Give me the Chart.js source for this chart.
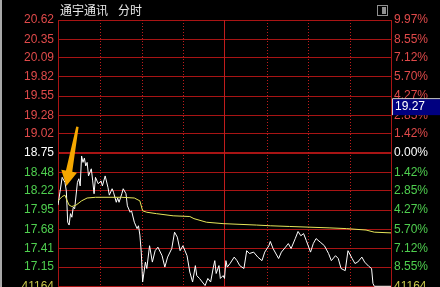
<!DOCTYPE html>
<html>
<head>
<meta charset="utf-8">
<script src="https://cdn.jsdelivr.net/npm/chart.js@4.4.0/dist/chart.umd.min.js"></script>
<style>
  html, body { margin: 0; padding: 0; background: #000; overflow: hidden; }
  canvas { display: block; }
</style>
</head>
<body>
<canvas id="chart" width="440" height="287"></canvas>
<script>
// intraday chart (分时) data
const stockName = '通宇通讯';
const periodName = '分时';
const prevClose = 18.75;
const cursorPrice = 19.27;

const priceTicks  = [20.62, 20.35, 20.09, 19.82, 19.55, 19.28, 19.02, 18.75, 18.48, 18.22, 17.95, 17.68, 17.41, 17.15, 16.88];
const priceLabels = ['20.62', '20.35', '20.09', '19.82', '19.55', '19.28', '19.02', '18.75', '18.48', '18.22', '17.95', '17.68', '17.41', '17.15', '41164'];
const pctLabels   = ['9.97%', '8.55%', '7.12%', '5.70%', '4.27%', '2.85%', '1.42%', '0.00%', '1.42%', '2.85%', '4.27%', '5.70%', '7.12%', '8.55%', '41164'];

// half hour marks (minutes since open); 120 = midday break
const gridMinutes = [30, 60, 90, 120, 150, 180, 210];

const priceMinutes = [0, 3, 5, 6, 7, 8, 9, 10, 11, 12, 14, 15, 16, 17, 18, 19, 20, 21, 22, 24,
  25, 26, 27, 29, 31, 32, 34, 36, 37, 39, 40, 42, 43, 44, 46, 47, 49, 50, 52, 53,
  55, 57, 58, 59, 60, 61, 63, 64, 66, 68, 70, 72, 75, 77, 79, 82, 84, 86, 88, 90,
  93, 95, 97, 99, 100, 102, 106, 108, 110, 112, 113, 114, 116, 117, 119, 120, 121, 122, 124, 127,
  129, 131, 134, 136, 138, 141, 144, 147, 149, 152, 153, 155, 159, 161, 164, 166, 168, 171, 173, 175,
  177, 179, 182, 184, 186, 189, 192, 195, 197, 200, 202, 204, 207, 209, 212, 214, 216, 219, 221, 224,
  226, 227, 228, 240];
const prices = [18.02, 18.41, 18.34, 18.22, 17.78, 17.74, 17.90, 17.85, 17.99, 17.97, 18.34, 18.39, 18.29, 18.71, 18.62, 18.68, 18.57, 18.62, 18.43, 18.53,
  18.36, 18.18, 18.41, 18.32, 18.36, 18.29, 18.43, 18.27, 18.16, 18.25, 18.20, 18.06, 18.12, 18.06, 18.18, 18.25, 18.18, 18.01, 17.92, 17.94,
  17.78, 17.69, 17.73, 17.60, 17.36, 16.94, 17.22, 17.13, 17.45, 17.22, 17.38, 17.43, 17.31, 17.15, 17.29, 17.41, 17.64, 17.57, 17.38, 17.45,
  17.31, 17.08, 16.94, 17.17, 17.03, 16.99, 16.89, 16.99, 16.94, 17.15, 17.24, 17.06, 17.17, 16.99, 17.03, 16.99, 17.24, 17.15, 17.20, 17.29,
  17.24, 17.17, 17.13, 17.38, 17.34, 17.36, 17.29, 17.24, 17.36, 17.45, 17.51, 17.41, 17.27, 17.36, 17.43, 17.48, 17.41, 17.55, 17.65, 17.59,
  17.62, 17.52, 17.36, 17.48, 17.55, 17.50, 17.45, 17.34, 17.24, 17.31, 17.27, 17.13, 17.10, 17.38, 17.27, 17.20, 17.22, 17.29, 17.22, 17.16,
  17.13, 16.92, 16.88, 16.88];

const avgMinutes = [0, 3, 5, 6, 8, 10, 13, 17, 21, 27, 46, 55, 59, 61, 64, 71, 83, 95, 98, 107, 119, 143, 153, 167, 196, 208, 222, 228, 240];
const avgPrices  = [18.08, 18.14, 18.16, 18.11, 18.02, 18.00, 18.02, 18.08, 18.12, 18.13, 18.13, 18.12, 18.08, 17.94, 17.92, 17.90, 17.87, 17.86, 17.83, 17.78,
  17.76, 17.74, 17.73, 17.72, 17.70, 17.69, 17.67, 17.64, 17.63];

// hand drawn arrow annotation (minute, price)
const arrowFrom = { x: 14, y: 19.12 };
const arrowTo = { x: 6, y: 18.29 };

const RED = '#a81414';
const LABEL_FONT = { family: 'Liberation Sans', size: 12 };

function tickColor(i) {
  if (i < 7) return '#e04a4a';
  if (i === 7) return '#ffffff';
  if (i < 14) return '#4fcf4f';
  return '#c8c84a';
}

const setTicks = scale => { scale.ticks = priceTicks.map(v => ({ value: v })); };

const decor = {
  id: 'decor',
  beforeDraw(chart) {
    const ctx = chart.ctx;
    ctx.save();
    ctx.fillStyle = '#000';
    ctx.fillRect(0, 0, chart.width, chart.height);
    ctx.fillStyle = '#a8a8a8';
    ctx.fillRect(0, 0, 2, chart.height);
    ctx.restore();
  },
  beforeDatasetsDraw(chart) {
    const { ctx, chartArea } = chart;
    const xs = chart.scales.x;
    ctx.save();
    ctx.fillStyle = '#c01c1c';
    gridMinutes.forEach(m => {
      const v = xs.getPixelForValue(m);
      if (m === 120) {
        ctx.fillRect(Math.floor(v), chartArea.top, 1, chartArea.bottom - chartArea.top);
      } else {
        const px = Math.ceil(v);
        for (let y = Math.ceil(chartArea.top); y < chartArea.bottom; y += 3) {
          ctx.fillRect(px, y, 1, 1);
        }
      }
    });
    ctx.restore();
  },
  afterDraw(chart) {
    const { ctx, chartArea } = chart;
    const xs = chart.scales.x, ys = chart.scales.y;
    ctx.save();

    // title
    ctx.font = '12px "Noto Sans CJK SC"';
    ctx.fillStyle = '#e8e8e8';
    ctx.textBaseline = 'middle';
    ctx.fillText(stockName, chartArea.left + 2, 10);
    ctx.fillText(periodName, chartArea.left + 60, 10);

    // small window button
    ctx.strokeStyle = '#909090';
    ctx.strokeRect(377.5, 5.5, 10, 10);
    ctx.fillStyle = '#909090';
    ctx.fillRect(382, 7, 4, 7);

    // cursor price box on right axis
    const by = ys.getPixelForValue(cursorPrice);
    ctx.fillStyle = '#000080';
    ctx.fillRect(chartArea.right + 1, by - 17, chart.width - chartArea.right, 16);
    ctx.strokeStyle = '#c8c8c8';
    ctx.beginPath();
    ctx.moveTo(chartArea.right + 1.5, by - 1);
    ctx.lineTo(chartArea.right + 1.5, by - 17.5);
    ctx.lineTo(chart.width, by - 17.5);
    ctx.stroke();
    ctx.font = '12px "Liberation Sans"';
    ctx.fillStyle = '#ffffff';
    ctx.fillText(cursorPrice.toFixed(2), chartArea.right + 4, by - 9);

    // arrow
    const ax = xs.getPixelForValue(arrowFrom.x), ay = ys.getPixelForValue(arrowFrom.y);
    const bx = xs.getPixelForValue(arrowTo.x), bY = ys.getPixelForValue(arrowTo.y);
    const len = Math.hypot(bx - ax, bY - ay);
    const ux = (bx - ax) / len, uy = (bY - ay) / len;
    const nx = -uy, ny = ux;
    const head = 15, hw = 8, sw0 = 1.2, sw1 = 3.2;
    const hx = bx - ux * head, hy = bY - uy * head;
    ctx.fillStyle = '#f5a800';
    ctx.beginPath();
    ctx.moveTo(ax + nx * sw0, ay + ny * sw0);
    ctx.lineTo(hx + nx * sw1, hy + ny * sw1);
    ctx.lineTo(hx + nx * hw, hy + ny * hw);
    ctx.lineTo(bx, bY);
    ctx.lineTo(hx - nx * hw, hy - ny * hw);
    ctx.lineTo(hx - nx * sw1, hy - ny * sw1);
    ctx.lineTo(ax - nx * sw0, ay - ny * sw0);
    ctx.closePath();
    ctx.fill();

    ctx.restore();
  }
};

new Chart(document.getElementById('chart'), {
  type: 'line',
  data: {
    datasets: [
      {
        label: 'avg',
        data: avgMinutes.map((m, i) => ({ x: m, y: avgPrices[i] })),
        borderColor: '#e6e65a',
        borderWidth: 1,
        pointRadius: 0,
        tension: 0
      },
      {
        label: 'price',
        data: priceMinutes.map((m, i) => ({ x: m, y: prices[i] })),
        borderColor: '#ffffff',
        borderWidth: 1,
        pointRadius: 0,
        tension: 0
      }
    ]
  },
  options: {
    responsive: false,
    animation: false,
    devicePixelRatio: 1,
    layout: { padding: { top: 20, left: 0, right: 0, bottom: 0 } },
    plugins: { legend: { display: false }, tooltip: { enabled: false } },
    scales: {
      x: { type: 'linear', min: 0, max: 240, display: false },
      y: {
        position: 'left',
        min: 16.87,
        max: 20.62,
        afterBuildTicks: setTicks,
        afterFit: s => { s.width = 58; s.paddingTop = 0; s.paddingBottom = 0; },
        grid: {
          color: RED,
          lineWidth: c => (c.tick && c.tick.value === prevClose ? 2 : 1),
          drawTicks: false
        },
        border: { color: RED },
        ticks: {
          autoSkip: false,
          padding: 4,
          font: LABEL_FONT,
          color: c => tickColor(c.index),
          callback: (v, i) => priceLabels[i]
        }
      },
      y2: {
        position: 'right',
        min: 16.87,
        max: 20.62,
        afterBuildTicks: setTicks,
        afterFit: s => { s.width = 49; s.paddingTop = 0; s.paddingBottom = 0; },
        grid: { drawOnChartArea: false, drawTicks: false },
        border: { color: RED },
        ticks: {
          autoSkip: false,
          padding: 3,
          font: LABEL_FONT,
          color: c => tickColor(c.index),
          callback: (v, i) => pctLabels[i]
        }
      }
    }
  },
  plugins: [decor]
});
</script>
</body>
</html>
